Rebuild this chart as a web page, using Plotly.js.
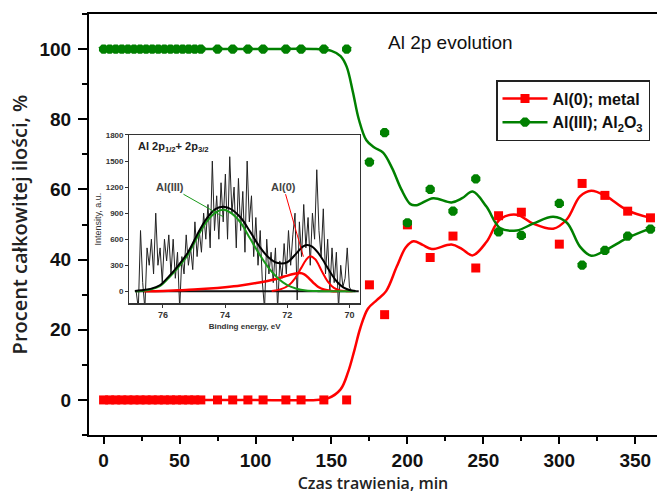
<!DOCTYPE html>
<html>
<head>
<meta charset="utf-8">
<script src="https://cdn.plot.ly/plotly-3.0.1.min.js"></script>
<style>html,body{margin:0;padding:0;background:#fff;}#chart{width:657px;height:494px;}</style>
</head>
<body>
<div id="chart"></div>
<script>
// ---- main chart data (etching time, min / percent of total) ----
const timeMin = [0,4,8,12,16,20,24,28,32,36,40,44,48,52,56,60,64,75,85,95,105,120,130,145,160,175,185,200,215,230,245,260,275,300,315,330,345,360];
const al0Metal = [0,0,0,0,0,0,0,0,0,0,0,0,0,0,0,0,0,0,0,0,0,0,0,0,0,32.8,24.3,49.9,40.6,46.7,37.6,52.5,53.5,44.4,61.7,58.3,53.8,51.9];
const al3Oxide = [100,100,100,100,100,100,100,100,100,100,100,100,100,100,100,100,100,100,100,100,100,100,100,100,100,67.8,76.2,50.5,60,53.8,63,47.9,46.9,56,38.4,42.6,46.7,48.7];

// smoothed curves
const redCurveX = [0,100,140,148,156,161,165,169,174,180,186,193,199,204,210,216,229,236,243,252,261,272,283,296,305,313.6,321,331,344,360];
const redCurveY = [0,0,0,0.5,3,8,14,20.5,26,28.5,31,38,43.5,45.2,44.2,43,44.3,43,41.2,45,51.5,52.8,50.2,48.8,51.5,58,59.6,58,54.2,51.9];
const greenCurveX = [0,100,140,150,156,160,164,168,173,178,184,190,196,202,206,217,229,236,243,252,261,272,283,296,305,313.6,321,331,344,360];
const greenCurveY = [100,100,100,99.5,98,95,88,80,74,72,70.5,66,60,55.8,55.5,57.5,56.3,57.5,59.4,55.1,49,48.3,50.3,52.2,50.5,43.7,41.1,42.8,46,48.9];

const seriesNames = ['Al(0); metal', 'Al(III); Al<sub>2</sub>O<sub>3</sub>'];
const xTickVals = [0,50,100,150,200,250,300,350];
const yTickVals = [0,20,40,60,80,100];

// ---- inset: XPS Al 2p spectrum ----
const bindingE = [76.86,76.79,76.72,76.65,76.58,76.51,76.44,76.37,76.30,76.23,76.16,76.09,76.02,75.95,75.88,75.81,75.74,75.67,75.60,75.53,75.46,75.39,75.32,75.25,75.18,75.11,75.04,74.97,74.90,74.83,74.76,74.69,74.62,74.55,74.48,74.41,74.34,74.27,74.20,74.13,74.06,73.99,73.92,73.85,73.78,73.71,73.64,73.57,73.50,73.43,73.36,73.29,73.22,73.15,73.08,73.01,72.94,72.87,72.80,72.73,72.66,72.59,72.52,72.45,72.38,72.31,72.24,72.17,72.10,72.03,71.96,71.89,71.82,71.75,71.68,71.61,71.54,71.47,71.40,71.33,71.26,71.19,71.12,71.05,70.98,70.91,70.84,70.77,70.70,70.63,70.56,70.49,70.42,70.35,70.28,70.21,70.14,70.07,70.00,69.93,69.86];
const rawIntensity = [0,-200,700,100,-200,500,300,600,200,900,
  300,500,100,600,350,650,200,600,150,450,
  -200,400,200,650,300,500,250,800,400,700,
  450,900,600,1000,500,1500,700,1100,600,1250,
  800,1350,600,1550,900,1200,500,1300,700,1150,
  450,1500,800,1100,400,850,300,700,100,-200,
  600,200,450,100,500,-200,350,150,550,200,
  700,300,650,900,-100,800,400,1000,500,850,
  300,900,600,1400,700,400,950,200,600,0,
  500,100,450,-200,300,50,150,500,50,0,
  0];
const baseE = [76.9, 69.7];
const baseI = [0, 0];
const envE = [76.9,76.7,76.4,76.1,75.8,75.5,75.2,74.9,74.6,74.3,74.05,73.8,73.5,73.2,72.9,72.6,72.3,72.0,71.7,71.5,71.37,71.2,71.0,70.8,70.6,70.4,70.2,70.0,69.8];
const envI = [5,12,28,70,175,300,445,650,835,950,975,945,850,690,520,390,325,335,440,515,533,515,440,330,210,110,45,15,5];
const al3FitE = [76.9,76.7,76.4,76.1,75.8,75.5,75.2,74.9,74.6,74.3,74.05,73.8,73.5,73.2,72.9,72.6,72.3,72.0,71.7,71.4,71.0,70.5,69.8];
const al3FitI = [0,5,20,60,160,280,420,620,800,910,940,900,790,610,430,270,150,70,30,10,2,0,0];
const al0FitAE = [72.5,72.2,71.95,71.75,71.55,71.4,71.27,71.1,70.9,70.7,70.5,70.3,70.1,69.9];
const al0FitAI = [5,25,70,150,270,360,405,370,240,115,40,10,2,0];
const al0FitBE = [76.6,76.0,75.5,75.0,74.5,74.0,73.5,73.0,72.5,72.1,71.8,71.6,71.45,71.3,71.15,71.0,70.8,70.6,70.4];
const al0FitBI = [0,5,12,20,32,48,68,95,130,170,200,210,195,150,95,50,18,5,0];
const insetXTicks = [76,74,72,70];
const insetYTicks = [0,300,600,900,1200,1500,1800];

const RED = '#ff0000', GREEN = '#008000';

const traces = [
  // smoothed curves (also legend entries)
  {x: redCurveX, y: redCurveY, mode: 'lines+markers', name: seriesNames[0],
   line: {color: RED, width: 2.5, shape: 'spline', smoothing: 1},
   marker: {symbol: 'square', size: 9, color: RED},
   selectedpoints: [], unselected: {marker: {opacity: 0}},
   hoverinfo: 'skip', xaxis: 'x', yaxis: 'y', cliponaxis: false},
  {x: greenCurveX, y: greenCurveY, mode: 'lines+markers', name: seriesNames[1],
   line: {color: GREEN, width: 2.5, shape: 'spline', smoothing: 1},
   marker: {symbol: 'octagon', size: 10, color: GREEN},
   selectedpoints: [], unselected: {marker: {opacity: 0}},
   hoverinfo: 'skip', xaxis: 'x', yaxis: 'y', cliponaxis: false},
  // measured points
  {x: timeMin, y: al0Metal, mode: 'markers', showlegend: false,
   marker: {symbol: 'square', size: 9, color: RED}, xaxis: 'x', yaxis: 'y', cliponaxis: false},
  {x: timeMin, y: al3Oxide, mode: 'markers', showlegend: false,
   marker: {symbol: 'octagon', size: 10, color: GREEN}, xaxis: 'x', yaxis: 'y', cliponaxis: false},
  // inset
  {x: bindingE, y: rawIntensity, mode: 'lines', showlegend: false,
   line: {color: '#222', width: 1}, xaxis: 'x2', yaxis: 'y2'},
  {x: baseE, y: baseI, mode: 'lines', showlegend: false,
   line: {color: '#111', width: 2}, xaxis: 'x2', yaxis: 'y2'},
  {x: al0FitBE, y: al0FitBI, mode: 'lines', showlegend: false,
   line: {color: RED, width: 2.5, shape: 'spline'}, xaxis: 'x2', yaxis: 'y2'},
  {x: al0FitAE, y: al0FitAI, mode: 'lines', showlegend: false,
   line: {color: RED, width: 2, shape: 'spline'}, xaxis: 'x2', yaxis: 'y2'},
  {x: al3FitE, y: al3FitI, mode: 'lines', showlegend: false,
   line: {color: '#1a9a1a', width: 2, shape: 'spline'}, xaxis: 'x2', yaxis: 'y2'},
  {x: envE, y: envI, mode: 'lines', showlegend: false,
   line: {color: '#000', width: 2, shape: 'spline'}, xaxis: 'x2', yaxis: 'y2'}
];

const insetFont = {family: 'Liberation Sans, Arial, sans-serif', size: 8, color: '#333', weight: 'bold'};

const layout = {
  width: 657, height: 494,
  margin: {l: 89, r: 0, t: 14, b: 59, autoexpand: false},
  paper_bgcolor: '#fff', plot_bgcolor: '#fff',
  font: {family: 'Liberation Sans, Arial, sans-serif', color: '#000'},
  showlegend: true,
  legend: {
    x: (496 - 89) / 568, xanchor: 'left', y: (435 - 80) / 421, yanchor: 'top',
    bgcolor: '#fff', bordercolor: '#222', borderwidth: 1.5,
    font: {family: 'Liberation Sans, Arial, sans-serif', size: 16, weight: 'bold', color: '#111'},
    itemwidth: 45, tracegroupgap: 0
  },
  xaxis: {
    domain: [0, 1], range: [-9.6, 364.3], anchor: 'y',
    showline: true, linecolor: '#000', linewidth: 2, mirror: true,
    ticks: 'outside', ticklen: 7, tickwidth: 2, tickcolor: '#000',
    tickvals: xTickVals, tickfont: {size: 19, weight: 'bold', color: '#111'},
    showgrid: false, zeroline: false,
    minor: {dtick: 25, tick0: 0, ticks: 'outside', ticklen: 4, tickwidth: 2, tickcolor: '#000', showgrid: false},
    title: {text: 'Czas trawienia, min', font: {family: 'Open Sans', size: 16, weight: 600, color: '#222'}, standoff: 17}
  },
  yaxis: {
    domain: [0, 1], range: [-10, 110], anchor: 'x',
    showline: true, linecolor: '#000', linewidth: 2, mirror: false,
    ticks: 'outside', ticklen: 9, tickwidth: 2, tickcolor: '#000',
    tickvals: yTickVals, tickfont: {size: 19, weight: 'bold', color: '#111'},
    ticklabelstandoff: 3,
    showgrid: false, zeroline: false,
    minor: {dtick: 10, tick0: 0, ticks: 'outside', ticklen: 5, tickwidth: 2, tickcolor: '#000', showgrid: false},
    title: {text: 'Procent całkowitej ilości, %', font: {family: 'Open Sans', size: 20, weight: 600, color: '#222'}, standoff: 6}
  },
  xaxis2: {
    domain: [0.071, 0.4771], range: [77.08, 69.66], anchor: 'y2',
    showline: true, linecolor: '#333', linewidth: 1.2, mirror: true,
    ticks: 'outside', ticklen: 3, tickwidth: 1, tickcolor: '#333',
    tickvals: insetXTicks, tickfont: Object.assign({}, insetFont, {size: 9}),
    showgrid: false, zeroline: false,
    title: {text: 'Binding energy, eV', font: insetFont, standoff: 4}
  },
  yaxis2: {
    domain: [0.3128, 0.7126], range: [-138, 1800], anchor: 'x2',
    showline: true, linecolor: '#333', linewidth: 1.2, mirror: true,
    ticks: 'outside', ticklen: 3, tickwidth: 1, tickcolor: '#333',
    tickvals: insetYTicks, tickfont: insetFont,
    showgrid: false, zeroline: false,
    title: {text: 'Intensity, a.u.', font: {family: 'Liberation Sans, Arial, sans-serif', size: 9, color: '#333'}, standoff: 2}
  },
  annotations: [
    {text: 'Al 2p evolution', xref: 'paper', yref: 'paper', x: 0.6356, y: 0.962,
     showarrow: false, font: {size: 19, color: '#111', weight: 500}},
    {text: 'Al 2p<sub>1/2</sub>+ 2p<sub>3/2</sub>', xref: 'x2 domain', yref: 'y2 domain',
     x: 0.03, y: 0.93, xanchor: 'left', yanchor: 'middle', showarrow: false,
     font: {size: 11, weight: 'bold', color: '#222'}},
    {text: 'Al(III)', xref: 'x2', yref: 'y2', x: 74.06, y: 859, ax: -53, ay: -30,
     showarrow: true, arrowhead: 0, arrowwidth: 1, arrowcolor: '#1a9a1a',
     font: {size: 11, weight: 'bold', color: '#444'}},
    {text: 'Al(0)', xref: 'x2', yref: 'y2', x: 71.48, y: 399, ax: -20, ay: -70,
     showarrow: true, arrowhead: 0, arrowwidth: 1, arrowcolor: RED,
     font: {size: 11, weight: 'bold', color: '#444'}}
  ]
};

Plotly.newPlot('chart', traces, layout, {displayModeBar: false, staticPlot: true});
</script>
</body>
</html>
